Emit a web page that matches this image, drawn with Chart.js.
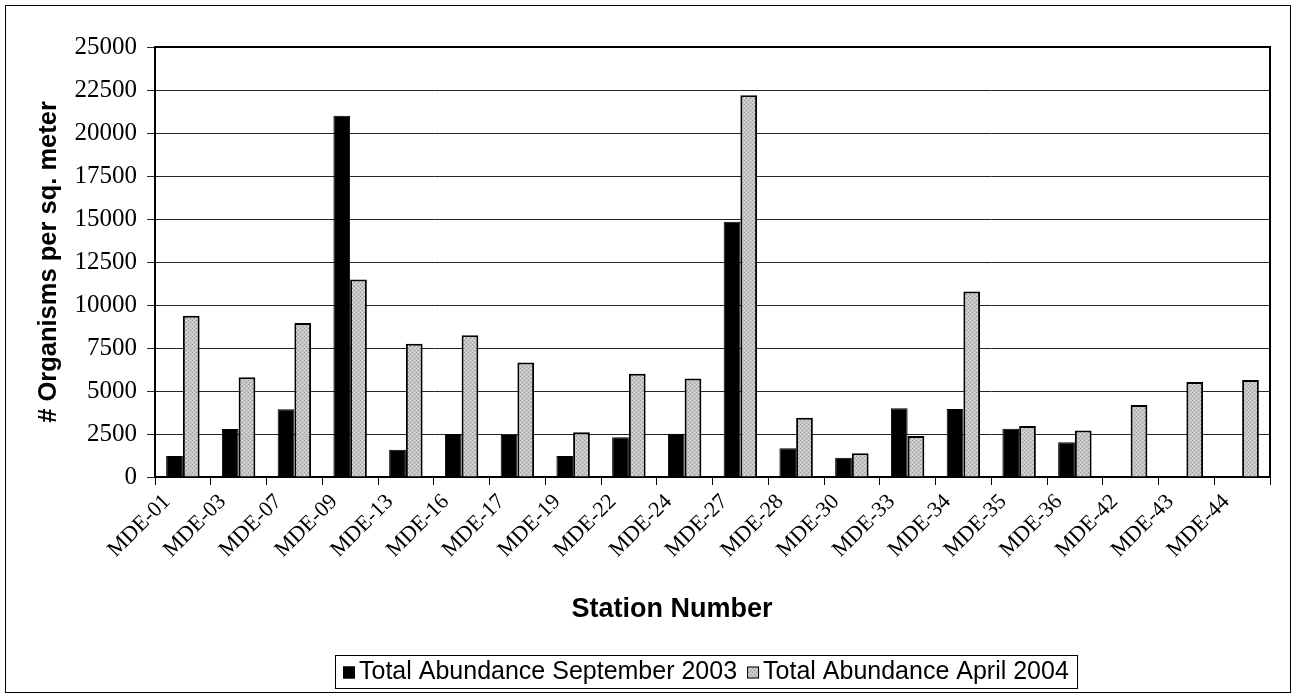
<!DOCTYPE html>
<html>
<head>
<meta charset="utf-8">
<title>Total Abundance by Station</title>
<script src="https://cdn.jsdelivr.net/npm/chart.js@4.4.0/dist/chart.umd.min.js"></script>
<style>
  html, body { margin: 0; padding: 0; background: #ffffff; }
  #wrap { width: 1293px; height: 700px; position: relative; }
  canvas { display: block; }
</style>
</head>
<body>
<div id="wrap"><canvas id="chart" width="1293" height="700"></canvas></div>
<script>
// Stations sampled
const stations = ['MDE-01', 'MDE-03', 'MDE-07', 'MDE-09', 'MDE-13', 'MDE-16', 'MDE-17',
  'MDE-19', 'MDE-22', 'MDE-24', 'MDE-27', 'MDE-28', 'MDE-30', 'MDE-33', 'MDE-34',
  'MDE-35', 'MDE-36', 'MDE-42', 'MDE-43', 'MDE-44'];

// Organisms per square meter, September 2003 (no samples at MDE-42/43/44)
const sept2003 = [1220, 2790, 3940, 21000, 1590, 2500, 2440, 1220, 2310, 2520,
  14840, 1670, 1120, 4000, 3960, 2810, 2020, null, null, null];

// Organisms per square meter, April 2004
const april2004 = [9370, 5800, 8960, 11480, 7740, 8240, 6650, 2600, 6000, 5720,
  22200, 3450, 1380, 2390, 10780, 2970, 2700, 4190, 5530, 5640];

const seriesNames = ['Total Abundance September 2003', 'Total Abundance April 2004'];
const xTitle = 'Station Number';
const yTitle = '# Organisms per sq. meter';

// Value axis
const yMin = 0;
const yMax = 25000;
const yStep = 2500;

const canvas = document.getElementById('chart');
const ctx = canvas.getContext('2d');

// Light grey stippled fill for the April bars
function stippleTile() {
  const t = document.createElement('canvas');
  t.width = 4; t.height = 4;
  const g = t.getContext('2d');
  g.fillStyle = '#c4c4c4'; g.fillRect(0, 0, 4, 4);
  g.fillStyle = '#9c9c9c'; g.fillRect(0, 0, 1, 1); g.fillRect(2, 2, 1, 1);
  g.fillStyle = '#dedede'; g.fillRect(2, 0, 1, 1); g.fillRect(0, 2, 1, 1);
  return t;
}
const greyFill = ctx.createPattern(stippleTile(), 'repeat');

const SERIF = "'Liberation Serif', 'Times New Roman', serif";
const SANS = "'Liberation Sans', Arial, sans-serif";

// Plot frame, outer border, category axis title and boxed legend
const decorations = {
  id: 'decorations',
  afterDraw(chart) {
    const c = chart.ctx;
    const a = chart.chartArea;
    c.save();
    // plot frame (top and right edges)
    c.strokeStyle = '#000';
    c.lineWidth = 2;
    c.beginPath();
    c.moveTo(a.left, a.top);
    c.lineTo(a.right, a.top);
    c.lineTo(a.right, a.bottom);
    c.stroke();

    // outer chart border
    c.lineWidth = 1;
    c.strokeRect(5.5, 5.5, 1285, 687);

    // category axis title
    c.fillStyle = '#000';
    c.font = 'bold 27px ' + SANS;
    c.textAlign = 'center';
    c.textBaseline = 'middle';
    c.fillText(xTitle, 672, 610);

    // legend
    const fills = chart.data.datasets.map(d => d.backgroundColor);
    c.font = '25px ' + SANS;
    const sq = 12, gap = 4, itemGap = 10, pad = 8;
    const widths = chart.data.datasets.map(d => c.measureText(d.label).width);
    let total = pad * 2;
    widths.forEach((w, i) => { total += sq + gap + w + (i ? itemGap : 0); });
    const boxTop = 655, boxH = 33;
    const boxLeft = 335;
    c.strokeStyle = '#000';
    c.lineWidth = 1;
    c.strokeRect(boxLeft + 0.5, boxTop + 0.5, Math.round(total), boxH);
    let x = boxLeft + pad;
    const midY = boxTop + boxH / 2 + 1;
    chart.data.datasets.forEach((d, i) => {
      if (i) x += itemGap;
      c.fillStyle = fills[i];
      c.fillRect(x, midY - sq / 2, sq, sq);
      c.strokeStyle = '#000';
      c.lineWidth = 1;
      c.strokeRect(x + 0.5, midY - sq / 2 + 0.5, sq - 1, sq - 1);
      x += sq + gap;
      c.fillStyle = '#000';
      c.textBaseline = 'middle';
      c.textAlign = 'left';
      c.fillText(d.label, x, midY);
      x += widths[i];
    });
    c.restore();
  }
};

new Chart(ctx, {
  type: 'bar',
  data: {
    labels: stations,
    datasets: [
      {
        label: seriesNames[0],
        data: sept2003,
        backgroundColor: '#000000',
        borderColor: '#000000',
        borderWidth: 1
      },
      {
        label: seriesNames[1],
        data: april2004,
        backgroundColor: greyFill,
        borderColor: '#000000',
        borderWidth: 2
      }
    ]
  },
  options: {
    responsive: false,
    animation: false,
    devicePixelRatio: 1,
    categoryPercentage: 0.6,
    barPercentage: 1.0,
    layout: { padding: { top: 47, right: 23, left: 0, bottom: 0 } },
    plugins: {
      legend: { display: false },
      tooltip: { enabled: false }
    },
    scales: {
      x: {
        grid: {
          display: true,
          drawOnChartArea: false,
          offset: true,
          tickLength: 8,
          color: '#000',
          lineWidth: 1
        },
        border: { display: true, color: '#000', width: 2 },
        ticks: {
          autoSkip: false,
          maxRotation: 45,
          minRotation: 45,
          padding: 4,
          labelOffset: -16,
          color: '#000',
          font: { family: SERIF, size: 22 }
        },
        title: { display: false },
        afterFit(scale) { scale.height = 223; }
      },
      y: {
        min: yMin,
        max: yMax,
        grid: {
          color: '#262626',
          lineWidth: 1,
          tickLength: 8
        },
        border: { display: true, color: '#000', width: 2 },
        ticks: {
          stepSize: yStep,
          padding: 10,
          color: '#000',
          font: { family: SERIF, size: 25 },
          callback: v => String(v)
        },
        title: {
          display: true,
          text: yTitle,
          color: '#000',
          font: { family: SANS, size: 25.5, weight: 'bold' },
          padding: { top: 34, bottom: 0 }
        },
        afterFit(scale) { scale.width = 155; }
      }
    }
  },
  plugins: [decorations]
});
</script>
</body>
</html>
